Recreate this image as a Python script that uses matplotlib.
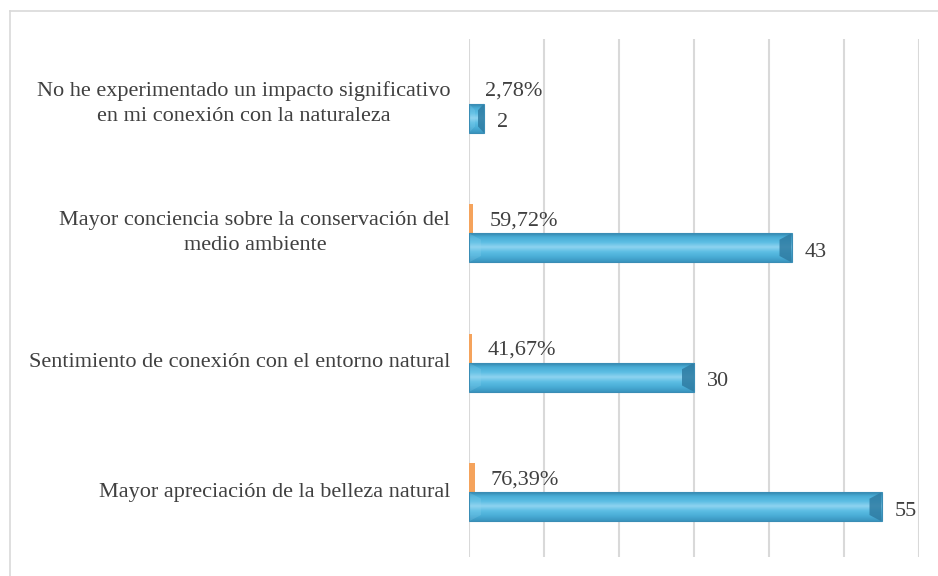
import numpy as np
import matplotlib
matplotlib.use("Agg")
import matplotlib.pyplot as plt
from matplotlib.patches import Rectangle, Polygon
from matplotlib.colors import LinearSegmentedColormap

plt.rcParams['font.family'] = ['Liberation Serif', 'DejaVu Serif']

categories = [
    "Mayor apreciación de la belleza natural",
    "Sentimiento de conexión con el entorno natural",
    "Mayor conciencia sobre la conservación del\nmedio ambiente",
    "No he experimentado un impacto significativo\nen mi conexión con la naturaleza",
]
counts = [55, 30, 43, 2]
shares = [0.7639, 0.4167, 0.5972, 0.0278]
share_labels = ["76,39%", "41,67%", "59,72%", "2,78%"]

W, H = 938, 576
fig = plt.figure(figsize=(W / 100, H / 100), dpi=100)

# light frame around the chart area (top and left visible)
fig.add_artist(plt.Line2D([9.5 / W, 1], [1 - 11 / H, 1 - 11 / H], color="#D9D9D9", lw=1.2))
fig.add_artist(plt.Line2D([9.5 / W, 9.5 / W], [0, 1 - 11 / H], color="#D9D9D9", lw=1.2))

ax = fig.add_axes([469 / W, 19 / H, 450 / W, 518 / H])

for s in ax.spines.values():
    s.set_visible(False)
ax.set_xticks(np.arange(0, 61, 10))
ax.grid(axis="x", color="#D9D9D9", lw=1.5)
ax.set_axisbelow(True)
ax.tick_params(length=0, labelbottom=False, labelleft=False)

bh = 0.225
y = np.arange(len(categories))

blue_cmap = LinearSegmentedColormap.from_list(
    "bevel", ["#2F7FA6", "#4AADD6", "#5BBDE3", "#8FD3F0", "#5BBDE3", "#4AADD6", "#3B95BF"])
grad = np.linspace(0, 1, 64).reshape(-1, 1)

# orange series: shares (fractions) on the same axis
ax.barh(y + bh / 2, shares, height=bh, color="#F5A35C", zorder=3)

bars = ax.barh(y - bh / 2, counts, height=bh, color="#4AADD6", zorder=3)
for b, v in zip(bars, counts):
    x0, y0 = b.get_x(), b.get_y()
    w, h = b.get_width(), b.get_height()
    im = ax.imshow(grad, cmap=blue_cmap, aspect="auto", extent=[x0, x0 + w, y0, y0 + h],
                   origin="upper", zorder=4)
    im.set_clip_path(b)
    # darker bevel at the right end, lighter one at the left
    d = min(1.6, w * 0.4)
    ax.add_patch(Polygon([[x0 + w - d, y0 + h * 0.22], [x0 + w, y0], [x0 + w, y0 + h],
                          [x0 + w - d, y0 + h * 0.78]], closed=True,
                         facecolor="#2F7CA3", alpha=0.85, lw=0, zorder=5))
    ax.add_patch(Polygon([[x0, y0 + h], [x0 + d, y0 + h * 0.78], [x0 + d, y0 + h * 0.22],
                          [x0, y0]], closed=True,
                         facecolor="#9ADAF3", alpha=0.2, lw=0, zorder=5))
    ax.add_patch(Rectangle((x0, y0), w, h, fill=False, edgecolor="#3A8DB5", lw=0.8, zorder=6))
    ax.text(x0 + w + 1.7, y0 + h / 2 - 0.035, str(v), va="center", ha="left",
            fontsize=16, color="#404040")

ax.set_xlim(0, 60)
ax.set_ylim(-0.5, len(categories) - 0.5)

for yi, s, lab in zip(y, shares, share_labels):
    ax.text(s + 2.1, yi + bh / 2 - 0.015, lab, va="center", ha="left", fontsize=16,
            color="#404040")

for yi, cat in zip(y, categories):
    ax.text(-2.5, yi, cat, va="center", ha="right", multialignment="center",
            fontsize=16, color="#404040", linespacing=1.45)

fig.savefig("out.png", dpi=100)
